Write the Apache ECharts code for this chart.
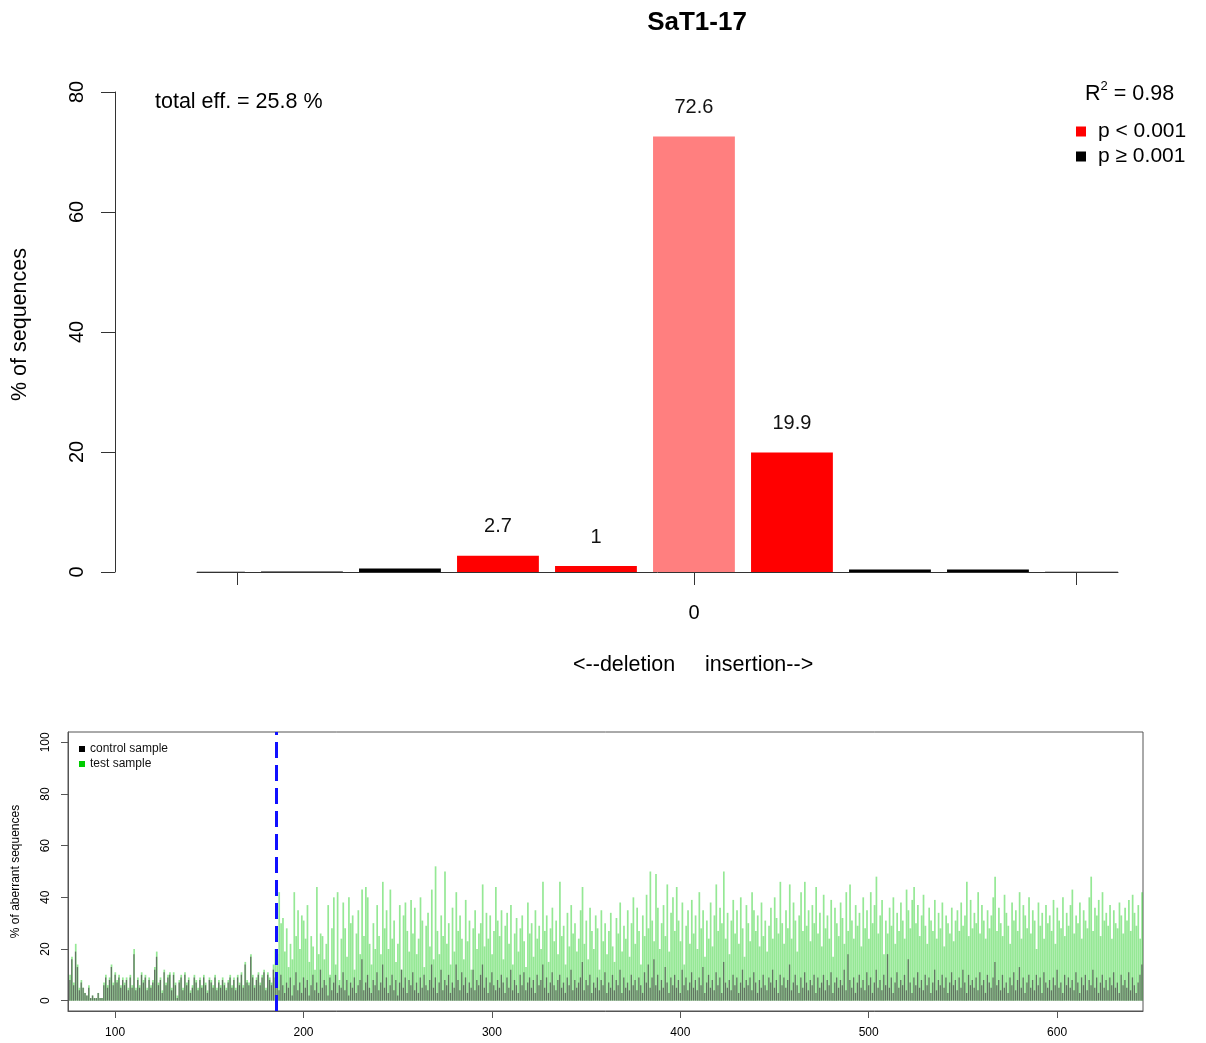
<!DOCTYPE html>
<html>
<head>
<meta charset="utf-8">
<script src="https://cdn.jsdelivr.net/npm/echarts@6/dist/echarts.min.js"></script>
<style>
  html, body { margin: 0; padding: 0; background: #ffffff; }
  #chart { width: 1206px; height: 1043px; }
</style>
</head>
<body>
<div id="chart"></div>
<script>
// ---- indel spectrum (upper panel) ----
const sampleName = 'SaT1-17';
const indelSizes = [-5, -4, -3, -2, -1, 0, 1, 2, 3, 4];
const indelPercent = [0.05, 0.1, 0.6, 2.7, 1, 72.6, 19.9, 0.4, 0.4, 0.05];
const indelSignificant = [false, false, false, true, true, true, true, false, false, false];
const totalEfficiency = 25.8;
const rSquared = 0.98;

// ---- aberrant sequence signal per basepair (lower panel) ----
const firstPosition = 76;
const breakSite = 185.5;
const positionTicks = [100, 200, 300, 400, 500, 600];
const percentTicks = [0, 20, 40, 60, 80, 100];

const controlAberrant = [
  8, 16, 6, 19, 13, 4, 7, 5, 3, 2,
  5, 1, 2, 1, 1, 3, 1, 1, 6, 9,
  5, 8, 13, 6, 10, 7, 9, 5, 8, 6,
  8, 4, 9, 5, 18, 4, 8, 5, 10, 7,
  9, 4, 8, 5, 7, 12, 17, 6, 8, 3,
  11, 6, 9, 10, 4, 10, 6, 1, 7, 9,
  4, 10, 6, 8, 3, 5, 9, 7, 4, 8,
  5, 9, 6, 3, 8, 7, 5, 9, 4, 7,
  5, 8, 6, 4, 7, 9, 5, 8, 4, 9,
  6, 10, 5, 14, 7, 6, 17, 9, 5, 8,
  10, 6, 9, 11, 4, 10, 8, 6, 12, 9,
  8, 4, 10, 6, 3, 7, 5, 9, 2, 6,
  11, 4, 7, 3, 9, 5, 8, 2, 6, 10,
  4, 7, 3, 12, 5, 8, 6, 2, 9, 4,
  7, 10, 3, 6, 5, 11, 4, 8, 2, 7,
  5, 9, 3, 6, 8, 16, 4, 7, 10, 5,
  3, 8, 6, 11, 4, 7, 14, 5, 9, 3,
  6, 10, 4, 8, 2, 7, 12, 5, 9, 3,
  8, 6, 11, 4, 7, 3, 9, 5, 10, 6,
  4, 8, 14, 5, 9, 3, 7, 12, 4, 8,
  6, 10, 3, 7, 5, 14, 8, 4, 11, 6,
  9, 3, 7, 5, 12, 4, 8, 6, 10, 14,
  5, 9, 3, 7, 11, 6, 4, 8, 5, 10,
  7, 3, 9, 5, 12, 4, 8, 6, 3, 10,
  6, 11, 4, 7, 9, 5, 8, 3, 10, 6,
  8, 14, 5, 9, 3, 7, 11, 6, 4, 8,
  10, 5, 7, 3, 9, 6, 12, 4, 8, 5,
  7, 9, 15, 4, 8, 6, 10, 3, 7, 5,
  9, 4, 8, 6, 11, 3, 7, 5, 10, 4,
  8, 6, 12, 3, 9, 5, 7, 4, 10, 6,
  8, 4, 9, 6, 3, 11, 7, 14, 5, 9,
  16, 6, 10, 4, 8, 5, 13, 7, 3, 9,
  6, 10, 5, 8, 3, 12, 6, 9, 4, 7,
  11, 5, 8, 4, 9, 6, 13, 3, 7, 10,
  5, 8, 4, 11, 6, 9, 3, 15, 7, 5,
  8, 4, 10, 6, 9, 3, 7, 12, 5, 8,
  6, 9, 4, 11, 7, 3, 8, 5, 10, 6,
  4, 9, 7, 12, 5, 8, 3, 10, 6, 9,
  5, 8, 14, 4, 7, 10, 6, 3, 9, 5,
  11, 7, 4, 8, 6, 10, 3, 9, 5, 7,
  10, 4, 8, 6, 11, 3, 7, 9, 5, 8,
  6, 12, 4, 18, 8, 5, 9, 3, 7, 10,
  5, 8, 4, 11, 6, 9, 3, 7, 12, 5,
  8, 4, 10, 6, 18, 5, 9, 3, 7, 11,
  5, 8, 6, 10, 4, 16, 7, 3, 9, 6,
  11, 5, 8, 4, 10, 6, 9, 3, 7, 12,
  4, 8, 6, 10, 5, 9, 3, 7, 11, 6,
  8, 4, 9, 5, 12, 7, 3, 10, 6, 8,
  5, 9, 4, 11, 6, 8, 3, 10, 7, 5,
  9, 15, 6, 8, 4, 10, 5, 7, 3, 9,
  6, 11, 4, 8, 13, 5, 9, 3, 7, 10,
  5, 8, 4, 10, 6, 9, 3, 11, 7, 5,
  8, 4, 9, 6, 12, 5, 7, 3, 10, 6,
  9, 5, 8, 4, 11, 7, 3, 9, 6, 10,
  4, 8, 6, 12, 5, 9, 3, 7, 10, 5,
  8, 4, 9, 6, 11, 5, 7, 3, 10, 6,
  8, 5, 11, 4, 9, 6, 3, 7, 10, 14
];

const testAberrant = [
  10, 17, 7, 22, 14, 5, 8, 5, 3, 2,
  6, 1, 2, 1, 1, 3, 1, 1, 7, 10,
  6, 9, 14, 7, 11, 8, 10, 6, 9, 7,
  9, 5, 10, 6, 20, 5, 9, 6, 11, 8,
  10, 5, 9, 6, 8, 13, 19, 7, 9, 4,
  12, 7, 10, 11, 5, 11, 7, 2, 8, 10,
  5, 11, 7, 9, 4, 6, 10, 8, 5, 9,
  6, 10, 7, 4, 9, 8, 6, 10, 5, 8,
  6, 9, 7, 5, 8, 10, 6, 9, 5, 10,
  7, 11, 6, 15, 8, 7, 18, 10, 6, 9,
  11, 7, 10, 12, 5, 11, 9, 7, 14, 20,
  18, 42, 30, 32, 19, 28, 13, 22, 16, 42,
  25, 35, 20, 33, 31, 24, 37, 15, 25, 21,
  12, 44, 18, 26, 25, 16, 22, 37, 10, 28,
  40, 14, 42, 8, 24, 38, 28, 17, 40, 30,
  33, 12, 26, 35, 18, 43, 25, 44, 40, 22,
  14, 30, 20, 37, 25, 18, 46, 28, 35, 20,
  43, 24, 31, 15, 22, 37, 12, 33, 38, 27,
  19, 39, 26, 36, 18, 24, 40, 31, 13, 29,
  34, 21, 43, 16, 52, 27, 18, 33, 25, 50,
  22, 30, 14, 36, 19, 42, 27, 33, 24, 16,
  39, 23, 31, 12, 28, 35, 20, 26, 30, 45,
  21, 34, 24, 33, 18, 27, 44, 31, 25, 35,
  16, 29, 34, 22, 37, 14, 26, 32, 19, 28,
  33, 23, 13, 38, 26, 30, 17, 35, 24, 29,
  20, 46, 27, 33, 15, 28, 36, 23, 31, 18,
  46, 25, 29, 14, 34, 21, 37, 26, 30, 19,
  24, 35, 44, 22, 31, 16, 36, 27, 20, 33,
  28, 12, 35, 23, 30, 18, 27, 34, 21, 15,
  32, 26, 38, 19, 29, 24, 35, 17, 30, 40,
  22, 36, 27, 14, 33, 25, 41, 28, 50, 31,
  23, 49, 36, 20, 30, 37, 25, 45, 19, 34,
  40, 27, 44, 31, 23, 38, 14, 29, 35, 22,
  39, 26, 33, 20, 42, 28, 35, 17, 31, 24,
  38, 21, 33, 45, 27, 36, 30, 50, 24, 34,
  18, 31, 39, 26, 35, 22, 40, 28, 17, 37,
  30, 23, 42, 35, 27, 33, 21, 38, 25, 31,
  19, 29, 36, 24, 40, 32, 26, 46, 30, 22,
  35, 28, 45, 24, 38, 31, 19, 33, 42, 27,
  46, 29, 35, 23, 37, 30, 44, 26, 34, 21,
  41, 28, 33, 24, 39, 17, 36, 30, 25, 38,
  32, 22, 42, 27, 45, 31, 24, 37, 29, 34,
  21, 40, 28, 35, 24, 42, 30, 37, 48, 26,
  33, 39, 18, 31, 26, 36, 29, 40, 22, 34,
  27, 38, 31, 24, 43, 35, 28, 39, 44, 30,
  37, 25, 33, 41, 29, 22, 36, 31, 27, 39,
  24, 34, 28, 38, 21, 33, 30, 26, 36, 23,
  31, 35, 27, 38, 29, 33, 46, 25, 39, 28,
  34, 30, 42, 26, 37, 31, 24, 35, 28, 33,
  40, 48, 27, 36, 30, 25, 41, 34, 29, 22,
  38, 31, 35, 27, 42, 24, 37, 33, 28, 40,
  26, 35, 31, 20, 38, 29, 34, 24, 37, 30,
  33, 27, 39, 22, 36, 31, 28, 40, 25, 34,
  29, 37, 43, 26, 33, 30, 38, 24, 35, 31,
  28, 40, 48, 27, 36, 33, 39, 25, 42, 31,
  34, 29, 37, 24, 35, 30, 28, 38, 33, 26,
  36, 31, 39, 27, 41, 34, 29, 37, 24, 42
];

const FONT = '"Liberation Sans", Arial, Helvetica, sans-serif';
const NARROW = '"Liberation Sans Narrow", "Liberation Sans", Arial, sans-serif';
const RED = '#FF0000';
const PINK = '#FF7F7F';
const BAR_FRACTION = 0.835;   // bar width relative to one indel step

// split indel bars by significance so each gets a legend entry
const sigBars = [];
const nonSigBars = [];
indelSizes.forEach((size, i) => {
  const item = { value: [size, indelPercent[i]] };
  if (indelSignificant[i]) {
    if (size === 0) item.itemStyle = { color: PINK };
    sigBars.push(item);
  } else {
    nonSigBars.push(item);
  }
});

// bars clipped exactly to the plotting region, optional value label on top
function indelBarRenderer(withLabel) {
  return function (params, api) {
    const size = api.value(0);
    const pct = api.value(1);
    const base = api.coord([size, 0]);
    const top = api.coord([size, pct]);
    const w = api.size([1, 0])[0] * BAR_FRACTION;
    const cs = params.coordSys;
    const rect = echarts.graphic.clipRectByRect(
      { x: base[0] - w / 2, y: top[1], width: w, height: base[1] - top[1] },
      { x: cs.x, y: cs.y - 60, width: cs.width, height: cs.height + 60 }
    );
    const children = [];
    if (rect) {
      children.push({ type: 'rect', shape: rect, style: { fill: api.visual('color') } });
    }
    if (withLabel) {
      children.push({
        type: 'text',
        x: base[0],
        y: top[1] - 19,
        style: {
          text: String(pct),
          textAlign: 'center',
          textVerticalAlign: 'bottom',
          font: '20px ' + FONT,
          fill: '#111'
        }
      });
    }
    return { type: 'group', children };
  };
}

const controlData = controlAberrant.map((v, i) => [firstPosition + i, v]);
const testData = testAberrant.map((v, i) => [firstPosition + i, v]);

const chart = echarts.init(document.getElementById('chart'), null, { renderer: 'canvas' });

chart.setOption({
  animation: false,
  backgroundColor: '#ffffff',
  title: {
    text: sampleName,
    left: 692,
    top: 5,
    textAlign: 'center',
    textStyle: { fontFamily: FONT, fontWeight: 'bold', fontSize: 26, color: '#000' }
  },
  legend: [
    {
      orient: 'vertical',
      left: 1071,
      top: 116,
      itemWidth: 10,
      itemHeight: 10,
      itemGap: 4,
      icon: 'rect',
      textStyle: { fontFamily: FONT, fontSize: 21, color: '#000', padding: [0, 0, 0, 7] },
      data: [
        { name: 'p < 0.001', itemStyle: { color: RED } },
        { name: 'p \u2265 0.001', itemStyle: { color: '#000' } }
      ],
      selectedMode: false
    },
    {
      orient: 'vertical',
      left: 74,
      top: 738,
      itemWidth: 6,
      itemHeight: 6,
      itemGap: 3,
      icon: 'rect',
      textStyle: { fontFamily: FONT, fontSize: 12, color: '#111' },
      data: [
        { name: 'control sample', itemStyle: { color: '#000' } },
        { name: 'test sample', itemStyle: { color: '#00CC00' } }
      ],
      selectedMode: false
    }
  ],
  grid: [
    { left: 197, right: 88, top: 92, height: 480, containLabel: false },
    { left: 68, right: 63, top: 732, height: 279, show: true, borderColor: '#555', borderWidth: 1, containLabel: false }
  ],
  xAxis: [
    {
      gridIndex: 0,
      type: 'value',
      min: -5.071,
      max: 4.327,
      splitLine: { show: false },
      axisLine: { show: true, onZero: false, lineStyle: { color: '#333', width: 1 } },
      axisTick: { show: true, length: 13, lineStyle: { color: '#333' }, customValues: [-4.66, 0, 3.9] },
      axisLabel: { customValues: [0], margin: 31, fontFamily: FONT, fontSize: 20, color: '#000' }
    },
    {
      gridIndex: 1,
      type: 'value',
      min: 75,
      max: 645.6,
      splitLine: { show: false },
      axisLine: { show: true, onZero: false, lineStyle: { color: '#555', width: 1 } },
      axisTick: { show: true, length: 7, lineStyle: { color: '#555' }, customValues: positionTicks },
      axisLabel: { customValues: positionTicks, margin: 16, fontFamily: NARROW, fontSize: 12, color: '#000' }
    }
  ],
  yAxis: [
    {
      gridIndex: 0,
      type: 'value',
      min: 0,
      max: 80,
      interval: 20,
      offset: 82,
      splitLine: { show: false },
      axisLine: { show: true, onZero: false, lineStyle: { color: '#333', width: 1 } },
      axisTick: { show: true, length: 14, lineStyle: { color: '#333' } },
      axisLabel: { rotate: 90, margin: 28, fontFamily: FONT, fontSize: 20, color: '#000' },
      name: '% of sequences',
      nameLocation: 'middle',
      nameRotate: 90,
      nameGap: 84,
      nameTextStyle: { fontFamily: FONT, fontSize: 21.5, color: '#000', padding: [0, 0, 0, 15] }
    },
    {
      gridIndex: 1,
      type: 'value',
      min: -4,
      max: 104,
      splitLine: { show: false },
      axisLine: { show: true, onZero: false, lineStyle: { color: '#555', width: 1 } },
      axisTick: { show: true, length: 7, lineStyle: { color: '#555' }, customValues: percentTicks },
      axisLabel: { customValues: percentTicks, rotate: 90, margin: 16, fontFamily: NARROW, fontSize: 12, color: '#000' },
      name: '% of aberrant sequences',
      nameLocation: 'middle',
      nameRotate: 90,
      nameGap: 46,
      nameTextStyle: { fontFamily: NARROW, fontSize: 12, color: '#000' }
    }
  ],
  series: [
    {
      name: 'p < 0.001',
      type: 'custom',
      xAxisIndex: 0,
      yAxisIndex: 0,
      clip: false,
      itemStyle: { color: RED },
      renderItem: indelBarRenderer(true),
      encode: { x: 0, y: 1 },
      data: sigBars
    },
    {
      name: 'p \u2265 0.001',
      type: 'custom',
      xAxisIndex: 0,
      yAxisIndex: 0,
      clip: false,
      itemStyle: { color: '#000' },
      renderItem: indelBarRenderer(false),
      encode: { x: 0, y: 1 },
      data: nonSigBars
    },
    {
      name: 'test sample',
      type: 'bar',
      xAxisIndex: 1,
      yAxisIndex: 1,
      barWidth: 1.7,
      barGap: '-100%',
      clip: true,
      itemStyle: { color: 'rgba(20,205,20,0.45)' },
      data: testData,
      markLine: {
        silent: true,
        symbol: 'none',
        label: { show: false },
        lineStyle: { color: '#1010FF', width: 3, type: [16, 7] },
        data: [{ xAxis: breakSite }]
      }
    },
    {
      name: 'control sample',
      type: 'bar',
      xAxisIndex: 1,
      yAxisIndex: 1,
      barWidth: 1.3,
      barGap: '-100%',
      clip: true,
      itemStyle: { color: 'rgba(80,80,80,0.75)' },
      data: controlData
    }
  ],
  graphic: [
    {
      type: 'text',
      left: 155,
      top: 91,
      style: { text: 'total eff. = ' + totalEfficiency + ' %', font: '21.5px ' + FONT, fill: '#000' }
    },
    {
      type: 'text',
      left: 1085,
      top: 80,
      style: {
        text: '{b|R}{s|2}{b| = ' + rSquared + '}',
        rich: {
          b: { fontFamily: FONT, fontSize: 21.5, fill: '#000', verticalAlign: 'bottom', lineHeight: 25 },
          s: { fontFamily: FONT, fontSize: 13, fill: '#000', verticalAlign: 'top', lineHeight: 25 }
        }
      }
    },
    {
      type: 'text',
      left: 573,
      top: 654,
      style: { text: '<--deletion     insertion-->', font: '21.5px ' + FONT, fill: '#000', whiteSpace: 'pre' }
    }
  ]
});
</script>
</body>
</html>
